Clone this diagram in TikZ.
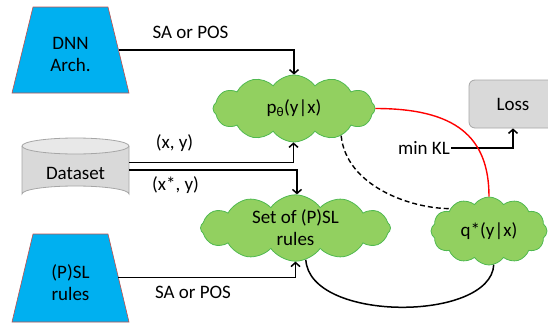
\documentclass[tikz,border=0pt]{standalone}
\usepackage{fontspec}
\setmainfont{Carlito}
\usetikzlibrary{shapes.geometric,shapes.symbols,arrows.meta,calc}
\definecolor{cyanfill}{RGB}{0,176,240}
\definecolor{trapedge}{RGB}{192,80,77}
\definecolor{cloudfill}{RGB}{146,208,96}
\definecolor{cloudedge}{RGB}{80,185,80}
\definecolor{boxfill}{RGB}{217,217,217}
\definecolor{boxtop}{RGB}{232,232,232}
\definecolor{boxedge}{RGB}{166,166,166}
\begin{document}
\begin{tikzpicture}[x=1pt,y=-1pt, font=\fontsize{19}{22}\selectfont,
 trapshape/.style={fill=cyanfill, draw=trapedge, line width=0.6pt},
 cylshape/.style={fill=boxfill, draw=boxedge, line width=0.8pt},
 txt/.style={align=center, inner sep=1pt},
 cloudnode/.style={cloud, cloud puffs=12, cloud puff arc=110, aspect=2.5, fill=cloudfill, draw=cloudedge, line width=0.8pt, inner sep=0pt, align=center},
 arr/.style={line width=1.5pt, -{Straight Barb[length=4pt,width=9pt]}},
 conn/.style={line width=1.5pt},
 lbl/.style={inner sep=1pt}
]
\useasboundingbox (0,0) rectangle (548,324);
\clip (0,0) rectangle (548,324);
% DNN Arch. trapezoid
\draw[trapshape] (33,7) -- (108,7) -- (129,93) -- (12,93) -- cycle;
\node[txt] (dnn) at (70.5,54) {DNN\\Arch.};
\coordinate (dnnE) at (118.5,50);
% (P)SL rules trapezoid
\draw[trapshape] (33,234) -- (108,234) -- (129,322) -- (12,322) -- cycle;
\node[txt] (psl) at (70.5,283) {(P)SL\\rules};
\coordinate (pslE) at (118.4,277.5);
% Dataset cylinder
\draw[cylshape] (22,146) -- (22,194) arc[start angle=180, end angle=360, x radius=53.5, y radius=8] -- (129,146);
\draw[cylshape, fill=boxtop] (75.5,146) ellipse[x radius=53.5, y radius=8];
\node[txt] (ds) at (75.5,173) {Dataset};
\coordinate (dsA) at (129,162.5);
\coordinate (dsB) at (129,170);
% clouds and box
\node[cloudnode, minimum width=162pt, minimum height=67pt] (pt) at (294,108.5) {p\textsubscript{θ}(y|x)};
\node[cloudnode, minimum width=190pt, minimum height=63pt] (set) at (295.5,228) {Set of (P)SL\\rules};
\node[cloudnode, minimum width=116pt, minimum height=68pt] (q) at (489,231) {q*(y|x)};
\node[rounded corners=6pt, fill=boxfill, draw=boxedge, line width=0.8pt, minimum width=88pt, minimum height=48pt] (loss) at (513,104) {Loss};
% labels
\node[lbl] (l1) at (190.5,32) {SA or POS};
\node[lbl] (l2) at (174.5,143) {(x, y)};
\node[lbl] (l3) at (175.5,185) {(x*, y)};
\node[lbl] (l4) at (193,292) {SA or POS};
\node[lbl] (mk) at (424,148) {min KL};
% connectors
\draw[arr] (dnnE) -| (pt.north);
\draw[arr] (dsA) -| ([xshift=-0.5pt]pt.south);
\draw[arr] (dsB) -| ([xshift=1.5pt]set.north);
\draw[arr] (pslE) -| (set.south);
\draw[arr] (mk.east) -| (loss.south);
\draw[red, line width=1.4pt] (pt.east) .. controls +(80,0) and +(0,-60) .. (q.north);
\draw[line width=1.4pt, dash pattern=on 5pt off 3pt] (pt.-30) .. controls +(5,50) and +(-40,0) .. (q.150);
\draw[conn] (set.-72) .. controls +(4,63) and +(-3,57) .. (q.-82);
\end{tikzpicture}
\end{document}
